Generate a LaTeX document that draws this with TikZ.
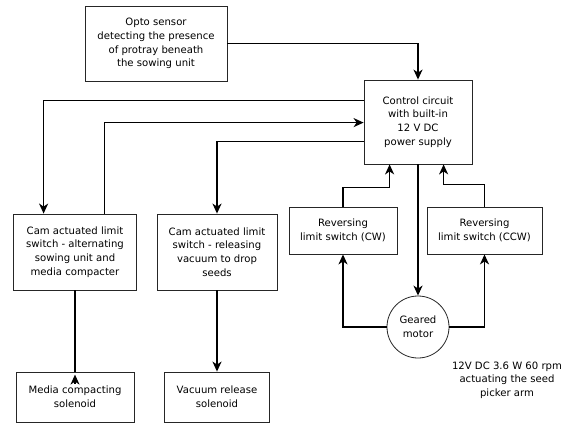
\documentclass[tikz,border=0pt]{standalone}
\usepackage{fontspec}
\setmainfont{DejaVu Sans}
\usetikzlibrary{arrows.meta,calc}
\begin{document}
\begin{tikzpicture}[x=1pt,y=-1pt,
  box/.style={draw=black!85,line width=0.8pt,align=center,inner sep=0pt,
    font=\fontsize{10.1}{13.7}\selectfont},
  conn/.style={line width=1.5pt},
  arr/.style={conn,-{Stealth[length=10pt,width=9pt,inset=3pt]}},
  lbl/.style={align=center,font=\fontsize{10.1}{13.7}\selectfont}]
\useasboundingbox (0,0) rectangle (568,426);
\node[box,minimum width=142pt,minimum height=75pt] (opto) at (156,43.5)
  {Opto sensor\\detecting the presence\\of protray beneath\\the sowing unit};
\node[box,minimum width=108pt,minimum height=84pt] (ctrl) at (418,122)
  {Control circuit\\with built-in\\12 V DC\\power supply};
\node[box,minimum width=123pt,minimum height=76pt] (cam1) at (75,252)
  {Cam actuated limit\\switch - alternating\\sowing unit and\\media compacter};
\node[box,minimum width=120pt,minimum height=76pt] (cam2) at (217,252)
  {Cam actuated limit\\switch - releasing\\vacuum to drop\\seeds};
\node[box,minimum width=108pt,minimum height=47pt] (cw) at (343,230.5)
  {Reversing\\limit switch (CW)};
\node[box,minimum width=115pt,minimum height=47pt] (ccw) at (484.5,230.5)
  {Reversing\\limit switch (CCW)};
\node[box,circle,minimum size=62pt] (motor) at (418,327) {Geared\\motor};
\node[lbl] (mlbl) at (507,380) {12V DC 3.6 W 60 rpm\\actuating the seed\\picker arm};
\node[box,minimum width=118pt,minimum height=50pt] (media) at (75,397)
  {Media compacting\\solenoid};
\node[box,minimum width=105pt,minimum height=50pt] (vac) at (217,397)
  {Vacuum release\\solenoid};
% connectors
\draw[arr] (opto.east) -| (ctrl.north);
\draw[arr] ($(ctrl.north west)+(0,21)$) -| ($(cam1.north west)+(30.5,0)$);
\draw[arr] ($(cam1.north west)+(91.5,0)$) |- ($(ctrl.north west)+(0,43)$);
\draw[arr] ($(ctrl.north west)+(0,62)$) -| (cam2.north);
\coordinate (c1) at ($(ctrl.south west)+(26,0)$);
\coordinate (c2) at ($(ctrl.south west)+(80,0)$);
\draw[arr] (cw.north) |- ($(c1)+(0,23)$) -- (c1);
\draw[arr] (ccw.north) |- ($(c2)+(0,20)$) -- (c2);
\draw[arr] (ctrl.south) -- (motor.north);
\draw[arr] (motor.west) -| (cw.south);
\draw[arr] (motor.east) -| (ccw.south);
\draw[conn] (cam1.south) -- (media.north);
\draw[arr] ($(media.north)+(0,12)$) -- ($(media.north)+(0,3)$);
\draw[arr] (cam2.south) -- (vac.north);
\end{tikzpicture}
\end{document}
